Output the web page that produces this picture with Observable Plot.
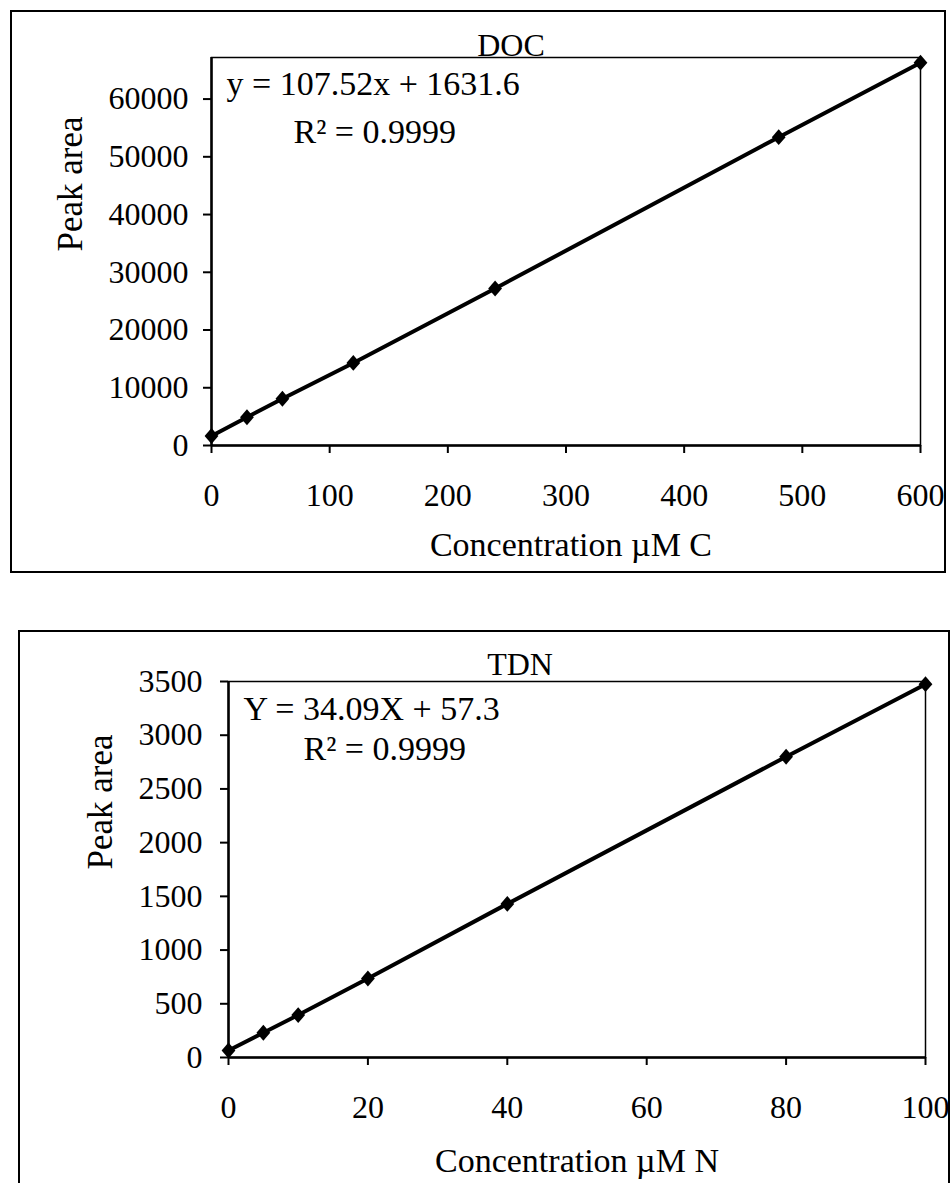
<!DOCTYPE html>
<html>
<head>
<meta charset="utf-8">
<script src="https://cdn.jsdelivr.net/npm/d3@7"></script>
<script src="https://cdn.jsdelivr.net/npm/@observablehq/plot@0.6"></script>
<style>
  html, body { margin: 0; padding: 0; background: #fff; }
  #page { position: relative; width: 951px; height: 1183px; overflow: hidden; background: #fff; }
  .box { position: absolute; box-sizing: border-box; border: 2px solid #000; }
  .panel { position: absolute; left: 0; }
  .panel svg [aria-label$="axis tick"] { stroke-width: 2px; }
  .panel svg .tick line { stroke-width: 2px; }
</style>
</head>
<body>
<div id="page">
  <div class="box" style="left:10px; top:10px; width:936px; height:563px;"></div>
  <div class="box" style="left:18px; top:630px; width:932px; height:600px;"></div>
  <div class="panel" id="doc" style="top:0px;"></div>
  <div class="panel" id="tdn" style="top:600px;"></div>
</div>
<script>
// Calibration standards: dissolved organic carbon
const docConc = [0, 30, 60, 120, 240, 480, 600];
const docArea = [1650, 4900, 8100, 14300, 27200, 53400, 66300];
const docXTicks = [0, 100, 200, 300, 400, 500, 600];
const docYTicks = [0, 10000, 20000, 30000, 40000, 50000, 60000];
const docTitle = "DOC";
const docEquation = "y = 107.52x + 1631.6";
const docR2 = "R² = 0.9999";
const docXLabel = "Concentration µM C";

// Calibration standards: total dissolved nitrogen
const tdnConc = [0, 5, 10, 20, 40, 80, 100];
const tdnArea = [65, 230, 395, 735, 1430, 2800, 3475];
const tdnXTicks = [0, 20, 40, 60, 80, 100];
const tdnYTicks = [0, 500, 1000, 1500, 2000, 2500, 3000, 3500];
const tdnTitle = "TDN";
const tdnEquation = "Y = 34.09X + 57.3";
const tdnR2 = "R² = 0.9999";
const tdnXLabel = "Concentration µM N";

const yLabel = "Peak area";

// Excel-style diamond marker (nearly equal width and height)
const diamondMarker = {
  draw(context, size) {
    const r = Math.sqrt(size / 2);
    context.moveTo(0, -r * 1.15);
    context.lineTo(r, 0);
    context.lineTo(0, r * 1.15);
    context.lineTo(-r, 0);
    context.closePath();
  }
};

const serif = '"Liberation Serif", "Times New Roman", serif';

function calibrationChart(cfg) {
  const rows = cfg.conc.map((c, i) => ({conc: c, area: cfg.area[i]}));
  return Plot.plot({
    width: 951,
    height: cfg.height,
    marginLeft: cfg.marginLeft,
    marginRight: cfg.marginRight,
    marginTop: cfg.marginTop,
    marginBottom: cfg.marginBottom,
    style: {fontFamily: serif, fontSize: "32px", color: "#000", background: "transparent", overflow: "visible"},
    x: {domain: cfg.xDomain, ticks: cfg.xTicks, tickSize: 8, tickPadding: 30, tickFormat: d3.format("d"), label: null},
    y: {domain: cfg.yDomain, ticks: cfg.yTicks, tickSize: 8, tickPadding: cfg.yPad, tickFormat: d3.format("d"), label: null},
    marks: [
      Plot.frame({stroke: "#000", strokeWidth: 1.5}),
      Plot.ruleY([0], {stroke: "#000", strokeWidth: 2.5}),
      Plot.ruleX([0], {stroke: "#000", strokeWidth: 2.5}),
      Plot.line(rows, {x: "conc", y: "area", stroke: "#000", strokeWidth: 4}),
      Plot.dot(rows, {x: "conc", y: "area", symbol: diamondMarker, r: 5.5, fill: "#000", stroke: "none"}),
      Plot.text([cfg.title], {text: d => d, frameAnchor: "top", dx: cfg.titleDx, dy: cfg.titleDy, lineAnchor: "middle", fontSize: 32}),
      Plot.text([cfg.equation], {text: d => d, frameAnchor: "top-left", textAnchor: "start", dx: cfg.eqDx, dy: cfg.eqDy, lineAnchor: "middle", fontSize: 34}),
      Plot.text([cfg.r2], {text: d => d, frameAnchor: "top-left", textAnchor: "start", dx: cfg.r2Dx, dy: cfg.r2Dy, lineAnchor: "middle", fontSize: 34}),
      Plot.text([yLabel], {text: d => d, frameAnchor: "left", dx: cfg.yLabelDx, rotate: -90, lineAnchor: "middle", fontSize: 35}),
      Plot.text([cfg.xLabel], {text: d => d, frameAnchor: "bottom", dx: cfg.xLabelDx, dy: cfg.xLabelDy, lineAnchor: "middle", fontSize: 34})
    ]
  });
}

document.getElementById("doc").append(calibrationChart({
  conc: docConc, area: docArea,
  xDomain: [0, 600], yDomain: [0, 67200],
  xTicks: docXTicks, yTicks: docYTicks,
  height: 580, marginLeft: 211, marginRight: 31, marginTop: 57, marginBottom: 135,
  yPad: 15,
  title: docTitle, titleDx: -55, titleDy: -12,
  equation: docEquation, eqDx: 15, eqDy: 27,
  r2: docR2, r2Dx: 82, r2Dy: 75,
  yLabelDx: -141,
  xLabel: docXLabel, xLabelDx: 5, xLabelDy: 100
}));

document.getElementById("tdn").append(calibrationChart({
  conc: tdnConc, area: tdnArea,
  xDomain: [0, 100], yDomain: [0, 3500],
  xTicks: tdnXTicks, yTicks: tdnYTicks,
  height: 583, marginLeft: 228, marginRight: 26, marginTop: 81, marginBottom: 126,
  yPad: 18,
  title: tdnTitle, titleDx: -57, titleDy: -17,
  equation: tdnEquation, eqDx: 15, eqDy: 28,
  r2: tdnR2, r2Dx: 75, r2Dy: 68,
  yLabelDx: -128,
  xLabel: tdnXLabel, xLabelDx: 0, xLabelDy: 104
}));
</script>
</body>
</html>
